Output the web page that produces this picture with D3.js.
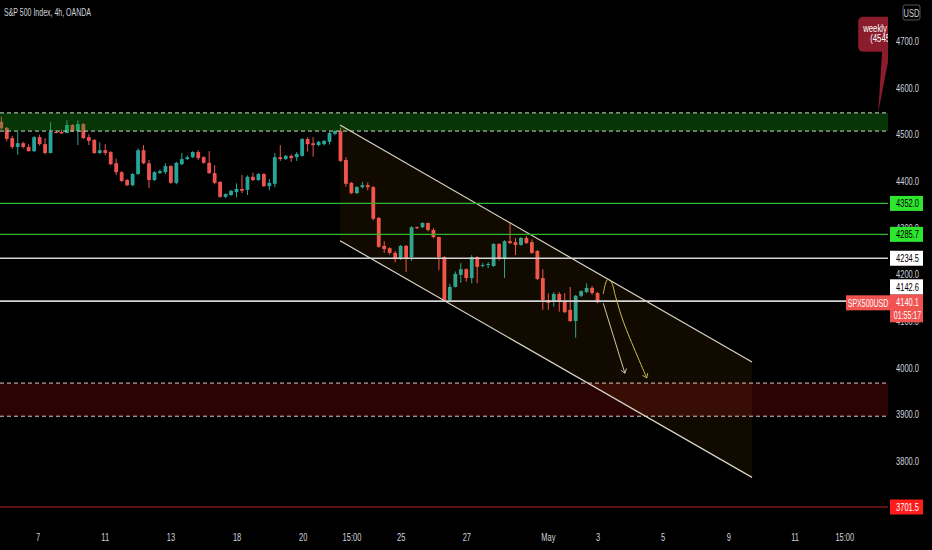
<!DOCTYPE html>
<html><head><meta charset="utf-8">
<script src="https://cdn.jsdelivr.net/npm/d3@7"></script>
<style>
html,body{margin:0;padding:0;background:#000;}
svg{display:block;}
text{font-family:"Liberation Sans",Arial,sans-serif;}
</style>
</head><body>
<svg id="c" width="932" height="550"></svg>
<script>
// ---- data (4h candles, SPX500USD) ----
const opens  = [4527,4514,4492,4473,4481,4473,4464,4494,4479,4460,4505,4505,4503,4520,4507,4522,4494,4488,4460,4466,
                4462,4438,4419,4402,4391,4415,4466,4438,4402,4417,4419,4432,4396,4436,4447,4451,4462,4451,4439,4417,
                4398,4366,4370,4376,4383,4381,4409,4402,4415,4389,4394,4451,4447,4454,4451,4454,4490,4481,4477,4479,
                4484,4501,4507,4445,4396,4374,4387,4391,4387,4321,4261,4256,4246,4233,4261,4237,4301,4301,4310,4295,
                4280,4237,4145,4173,4199,4211,4192,4237,4218,4220,4218,4265,4233,4271,4269,4263,4278,4269,4250,4192,
                4145,4141,4158,4143,4124,4100,4154,4162,4171,4160];
const highs  = [4538,4516,4497,4505,4484,4479,4496,4499,4492,4526,4509,4510,4530,4522,4530,4524,4500,4490,4483,4479,
                4464,4448,4421,4404,4417,4470,4477,4445,4421,4425,4438,4434,4441,4460,4455,4464,4466,4453,4464,4434,
                4400,4374,4381,4395,4413,4412,4418,4417,4417,4404,4460,4477,4456,4457,4462,4492,4494,4494,4486,4488,
                4506,4509,4514,4451,4398,4389,4398,4397,4389,4323,4271,4258,4250,4263,4263,4303,4303,4312,4311,4299,
                4281,4239,4180,4206,4224,4213,4241,4239,4224,4226,4267,4267,4273,4310,4278,4280,4282,4275,4252,4211,
                4159,4162,4162,4160,4173,4156,4166,4181,4175,4162];
const lows   = [4510,4485,4469,4456,4470,4463,4462,4476,4457,4459,4502,4501,4502,4505,4477,4490,4477,4458,4458,4455,
                4434,4413,4398,4389,4389,4413,4436,4385,4400,4415,4415,4394,4393,4434,4445,4449,4445,4437,4415,4393,
                4364,4363,4368,4365,4374,4370,4400,4400,4387,4380,4387,4443,4445,4441,4443,4452,4463,4452,4475,4476,
                4478,4498,4441,4388,4372,4372,4384,4380,4316,4257,4246,4242,4226,4231,4205,4229,4297,4299,4292,4277,
                4209,4143,4143,4172,4182,4184,4181,4181,4215,4213,4216,4230,4192,4265,4241,4261,4265,4244,4188,4124,
                4124,4131,4120,4117,4098,4064,4151,4160,4156,4138];
const closes = [4513,4490,4473,4481,4473,4464,4494,4479,4460,4505,4503,4502,4520,4507,4522,4492,4486,4460,4466,4460,
                4436,4419,4400,4391,4415,4466,4438,4402,4419,4421,4432,4396,4439,4447,4451,4462,4449,4439,4417,4396,
                4366,4372,4379,4383,4379,4409,4402,4415,4389,4396,4451,4447,4454,4449,4458,4490,4479,4477,4484,4486,
                4503,4507,4443,4394,4374,4387,4391,4387,4319,4259,4254,4246,4233,4261,4235,4301,4299,4310,4295,4280,
                4237,4145,4173,4201,4211,4192,4237,4216,4220,4222,4265,4233,4271,4267,4263,4278,4267,4246,4190,4145,
                4139,4158,4141,4119,4100,4154,4164,4171,4160,4140.1];

const tickLabels = ["7","11","13","18","20","15:00","25","27","May","3","5","9","11","15:00"];
const tickIndex  = [6.7,19,31,43.1,55.2,64.1,73.1,85.1,100,109.1,121,133,145.1,154.2];
const priceTicks = [3700,3800,3900,4000,4100,4200,4300,4400,4500,4600,4700];

const levelValues = [4352.0,4285.7,4234.5,4142.6,3701.5];
const levelKinds  = ["green","green","white","white","red"];

const greenZone = [4507,4546];
const redZone   = [3896,3967];

// channel anchors: [barIndex, upperPrice, lowerPrice]
const channelStart = [61.92,4520,4272];
const channelEnd   = [137.24,4012,3765];

// projected path sketches [barIndex, price]
const arrowStraight = [[110.05,4138],[114.0,3988]];
const arrowCurved   = [[110.05,4158],[110.4,4178],[110.85,4189],[111.5,4184],[112.3,4152],[113.8,4096],[118.0,3978]];

const lastPrice = 4140.1;
const countdown = "01:55:17";
const symbol = "SPX500USD";
const title = "S&P 500 Index, 4h, OANDA";
const calloutPrice = 4546;
const calloutBar = 160.3;
const calloutLines = ["weekly","(4545"];

// ---- drawing ----
const W = 932, H = 550, paneW = 888, paneH = 525;
const SX = 0.68;   // horizontal compression to mimic the narrow UI font
const svg = d3.select("#c");
svg.append("rect").attr("width",W).attr("height",H).attr("fill","#000");

const x = d3.scaleLinear().domain([-0.24,162.1]).range([0,paneW]);
const y = d3.scaleLinear().domain([3700,4700]).range([507.7,41]);

function label(parent,tx,ty,str,opts){
  opts = opts||{};
  return parent.append("text")
    .attr("transform",`translate(${tx},${ty}) scale(${opts.sx||SX},1)`)
    .attr("text-anchor",opts.anchor||"middle")
    .attr("fill",opts.fill||"#d1d4dc")
    .attr("font-size",opts.size||11)
    .text(str);
}

const defs = svg.append("defs");
defs.append("clipPath").attr("id","pane").append("rect").attr("x",0).attr("y",0).attr("width",paneW).attr("height",paneH);
function marker(id,color){
  defs.append("marker").attr("id",id).attr("viewBox","-6 -6 12 12").attr("refX",0).attr("refY",0)
    .attr("markerWidth",10).attr("markerHeight",10).attr("markerUnits","userSpaceOnUse").attr("orient","auto")
    .append("path").attr("d","M-5,-3.5 L0,0 L-5,3.5").attr("fill","none").attr("stroke",color).attr("stroke-width",1);
}
marker("ahA","#cfc9a0");
marker("ahB","#cdbd4e");

const pane = svg.append("g").attr("clip-path","url(#pane)");

// candles
const idx = d3.range(opens.length);
const up = "#26a69a", dn = "#ef5350";
const bw = 3.8;
pane.append("g").selectAll("line").data(idx).join("line")
  .attr("x1",i=>x(i)).attr("x2",i=>x(i))
  .attr("y1",i=>y(highs[i])).attr("y2",i=>y(lows[i]))
  .attr("stroke",i=>closes[i]>=opens[i]?up:dn).attr("stroke-width",1);
pane.append("g").selectAll("rect").data(idx).join("rect")
  .attr("x",i=>x(i)-bw/2).attr("width",bw)
  .attr("y",i=>y(Math.max(opens[i],closes[i])))
  .attr("height",i=>Math.max(1,Math.abs(y(opens[i])-y(closes[i]))))
  .attr("fill",i=>closes[i]>=opens[i]?up:dn);

// zones
function zone(z,fill,stroke){
  pane.append("rect").attr("x",0).attr("width",paneW)
    .attr("y",y(z[1])).attr("height",y(z[0])-y(z[1])).attr("fill",fill);
  [z[0],z[1]].forEach(v=>pane.append("line").attr("x1",0).attr("x2",paneW)
    .attr("y1",y(v)).attr("y2",y(v)).attr("stroke",stroke).attr("stroke-width",1).attr("stroke-dasharray","4,3"));
}
zone(greenZone,"rgba(20,160,20,0.33)","#c9dcc9");
zone(redZone,"rgba(200,20,20,0.21)","#dcc9c9");

// channel
const cx0 = x(channelStart[0]), cx1 = x(channelEnd[0]);
pane.append("path")
  .attr("d",`M${cx0},${y(channelStart[1])} L${cx1},${y(channelEnd[1])} L${cx1},${y(channelEnd[2])} L${cx0},${y(channelStart[2])} Z`)
  .attr("fill","rgba(255,150,0,0.068)");
[1,2].forEach(k=>pane.append("line")
  .attr("x1",cx0).attr("y1",y(channelStart[k])).attr("x2",cx1).attr("y2",y(channelEnd[k]))
  .attr("stroke","#d8d4c6").attr("stroke-width",1.2));

// horizontal levels
const levelColor = {green:"#2fb82f", white:"#d4d4d4", red:"#b8201f"};
const levelW = {green:1.2, white:1.6, red:1.2};
levelValues.forEach((v,k)=>{
  pane.append("line").attr("x1",0).attr("x2",paneW).attr("y1",y(v)).attr("y2",y(v))
    .attr("stroke",levelColor[levelKinds[k]]).attr("stroke-width",levelW[levelKinds[k]]);
});

// projected arrows
const ln = d3.line().x(d=>x(d[0])).y(d=>y(d[1]));
pane.append("path").attr("d",ln(arrowStraight)).attr("fill","none").attr("stroke","#cfc9a0")
  .attr("stroke-width",1).attr("marker-end","url(#ahA)");
pane.append("path").attr("d",ln.curve(d3.curveCatmullRom)(arrowCurved)).attr("fill","none").attr("stroke","#cdbd4e")
  .attr("stroke-width",1).attr("marker-end","url(#ahB)");

// callout
const tipX = x(calloutBar), tipY = y(calloutPrice);
const cg = pane.append("g");
cg.append("path").attr("d",`M${tipX+4},${tipY-62} L${tipX+12},${tipY-62} L${tipX},${tipY} Z`).attr("fill","#8a1c2b");
cg.append("rect").attr("x",tipX-20).attr("y",tipY-96).attr("width",80).attr("height",35).attr("rx",5).attr("fill","#8a1c2b");
label(cg,tipX-15,tipY-81,calloutLines[0],{anchor:"start",fill:"#fff",size:10,sx:0.78});
label(cg,tipX-8,tipY-70.5,calloutLines[1],{anchor:"start",fill:"#fff",size:10,sx:0.78});

// title
label(svg,4,15.5,title,{anchor:"start",size:10,sx:0.7});

// time axis
tickLabels.forEach((d,k)=>label(svg,x(tickIndex[k]),541,d));

// price axis
const axX = 907.5;
priceTicks.forEach(d=>label(svg,axX,y(d)+4,d3.format(".1f")(d)));

// USD box
svg.append("rect").attr("x",903).attr("y",5).attr("width",17).attr("height",15).attr("rx",2)
  .attr("fill","#000").attr("stroke","#555").attr("stroke-width",1);
label(svg,911.5,16.5,"USD");

// last price box
const lpTop = y(lastPrice)-8;
svg.append("rect").attr("x",846).attr("y",lpTop+1).attr("width",44).attr("height",15).attr("fill","#f05350");
label(svg,868,lpTop+12.5,symbol,{fill:"#fff",sx:0.64});
svg.append("rect").attr("x",890).attr("y",lpTop).attr("width",33).attr("height",28).attr("fill","#f05350");
label(svg,axX,lpTop+12,d3.format(".1f")(lastPrice),{fill:"#fff"});
label(svg,axX,lpTop+25,countdown,{fill:"#fff",sx:0.64});

// level boxes
const boxFill = {green:"#2ee62e", white:"#ffffff", red:"#ff1c1c"};
const boxText = {green:"#000", white:"#000", red:"#fff"};
levelValues.forEach((v,k)=>{
  let cy = y(v);
  if (cy+7.5 > lpTop && cy-7.5 < lpTop+28) cy = lpTop-7.5;
  const kind = levelKinds[k];
  svg.append("rect").attr("x",890).attr("y",cy-7.5).attr("width",33).attr("height",15).attr("fill",boxFill[kind]);
  label(svg,axX,cy+4,d3.format(".1f")(v),{fill:boxText[kind]});
});
</script>
</body></html>
